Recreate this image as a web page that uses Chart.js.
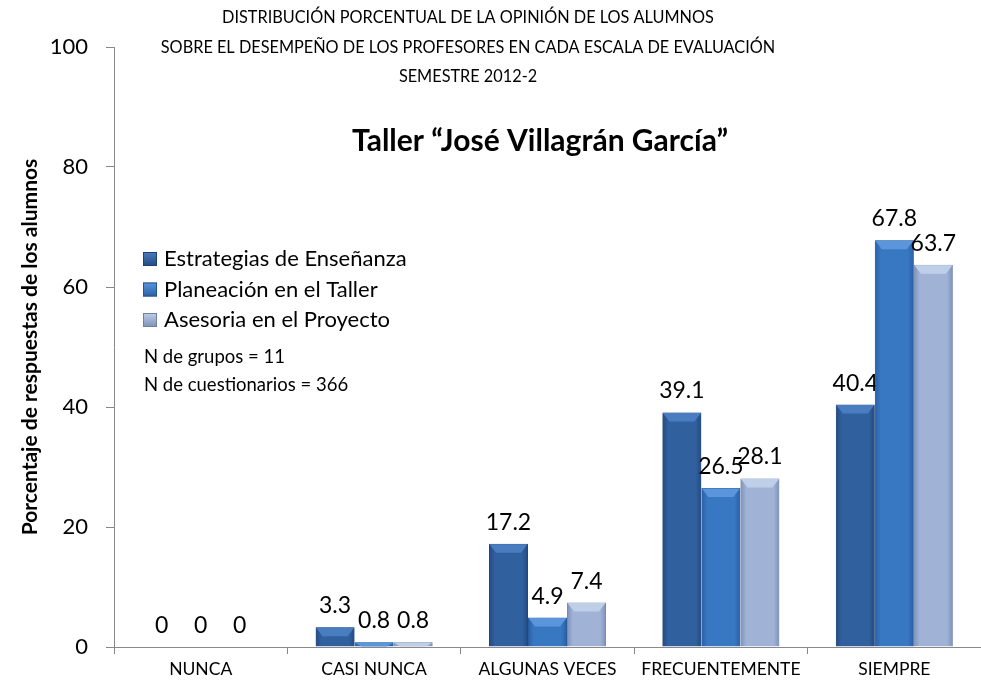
<!DOCTYPE html>
<html><head><meta charset="utf-8">
<script src="https://cdn.jsdelivr.net/npm/chart.js@4/dist/chart.umd.min.js"></script>
<style>html,body{margin:0;padding:0;background:#fff}#wrap{width:981px;height:684px}</style>
</head><body><div id="wrap"><canvas id="c" width="981" height="684"></canvas></div>
<script>
const categories = ["NUNCA","CASI NUNCA","ALGUNAS VECES","FRECUENTEMENTE","SIEMPRE"];
const estrategias = [0,3.3,17.2,39.1,40.4];
const planeacion = [0,0.8,4.9,26.5,67.8];
const asesoria = [0,0.8,7.4,28.1,63.7];
const seriesNames = ["Estrategias de Enseñanza","Planeación en el Taller","Asesoria en el Proyecto"];
const yTicks = [0,20,40,60,80,100];
const titleLines = ["DISTRIBUCIÓN PORCENTUAL DE LA OPINIÓN DE LOS ALUMNOS","SOBRE EL DESEMPEÑO DE LOS PROFESORES EN CADA ESCALA DE EVALUACIÓN","SEMESTRE 2012-2"];
const mainTitle = "Taller “José Villagrán García”";
const notes = ["N de grupos = 11","N de cuestionarios = 366"];

const FONT = "Lato, 'Open Sans', sans-serif";
const palettes = [
  {dark:'#244a80', mid:'#31609f', light:'#4a7cc0', border:'#1f4070'},
  {dark:'#2a5fa6', mid:'#3877c2', light:'#5b96dc', border:'#245490'},
  {dark:'#7d90b8', mid:'#a0b3d6', light:'#c0cfe8', border:'#6f7f9f'}
];
const datasets = [estrategias, planeacion, asesoria].map((d,i)=>({
  label: seriesNames[i], data: d,
  backgroundColor: palettes[i].mid,
  borderColor: palettes[i].border, borderWidth: 1,
  barPercentage: 1.0, categoryPercentage: 0.675
}));

const overlay = {
  id:'overlay',
  afterDatasetsDraw(chart){
    const c = chart.ctx;
    c.save();
    chart.data.datasets.forEach((ds,di)=>{
      chart.getDatasetMeta(di).data.forEach((bar,j)=>{
        const v = ds.data[j];
        const w = bar.width;
        if(v>0 && Number.isFinite(bar.x)){
          const p = palettes[di];
          const left = bar.x - w/2, right = bar.x + w/2, top = bar.y, base = bar.base;
          const g = c.createLinearGradient(left, 0, right, 0);
          g.addColorStop(0, p.dark); g.addColorStop(0.15, p.mid);
          g.addColorStop(0.85, p.mid); g.addColorStop(1, p.dark);
          c.fillStyle = g;
          c.fillRect(left+0.5, top+0.5, w-1, base-top-1);
          const h = Math.min(9, base - top);
          c.fillStyle = p.light;
          c.beginPath();
          c.moveTo(left+0.5, top+0.5);
          c.lineTo(right-0.5, top+0.5);
          c.lineTo(right - 7, top + h);
          c.lineTo(left + 7, top + h);
          c.closePath(); c.fill();
        }
        c.fillStyle = '#000';
        c.font = "23px " + FONT;
        c.textAlign = 'center';
        c.textBaseline = 'alphabetic';
        c.fillText(String(v), bar.x, bar.y - 14);
      });
    });
    c.fillStyle = '#000';
    c.font = "16.3px " + FONT;
    c.textAlign = 'center';
    c.textBaseline = 'middle';
    titleLines.forEach((t,k)=>c.fillText(t, 468, 18 + k*29.5));
    c.font = "bold 30px " + FONT;
    c.fillText(mainTitle, 540, 141);
    c.textAlign = 'left';
    c.font = "22px " + FONT;
    seriesNames.forEach((n,k)=>{
      const y = 259 + k*30.5;
      const g = c.createLinearGradient(143, y-7, 143, y+7);
      g.addColorStop(0, palettes[k].light); g.addColorStop(1, palettes[k].dark);
      c.fillStyle = g;
      c.fillRect(143, y-7, 14, 14);
      c.strokeStyle = palettes[k].border; c.lineWidth=1;
      c.strokeRect(143.5, y-6.5, 13, 13);
      c.fillStyle = '#000';
      c.fillText(n, 164, y);
    });
    c.font = "18.5px " + FONT;
    notes.forEach((n,k)=>c.fillText(n, 144, 357 + k*28));
    c.restore();
  }
};

new Chart(document.getElementById('c'), {
  type:'bar',
  data:{labels:categories, datasets},
  options:{
    responsive:false, animation:false,
    layout:{padding:{left:0,right:0,top:47,bottom:0}},
    plugins:{legend:{display:false}, tooltip:{enabled:false}},
    scales:{
      x:{
        offset:true,
        grid:{display:true, drawOnChartArea:false, drawTicks:true, tickLength:7, color:'#888', offset:true},
        border:{display:true, color:'#888', width:1},
        ticks:{color:'#000', font:{size:17.5, family:FONT}, padding:5, maxRotation:0, autoSkip:false},
        afterFit(s){ s.height = 37; }
      },
      y:{
        min:0, max:100,
        afterBuildTicks(s){ s.ticks = yTicks.map(v=>({value:v})); },
        grid:{display:true, drawOnChartArea:false, drawTicks:true, tickLength:8, color:'#888'},
        border:{display:true, color:'#888', width:1},
        ticks:{color:'#000', font:{size:22, family:FONT}, padding:18},
        title:{display:true, text:'Porcentaje de respuestas de los alumnos', color:'#000', font:{size:21, weight:'bold', family:FONT}, padding:{top:18,bottom:0}},
        afterFit(s){ s.width = 114; }
      }
    }
  },
  plugins:[overlay]
});
</script></body></html>
